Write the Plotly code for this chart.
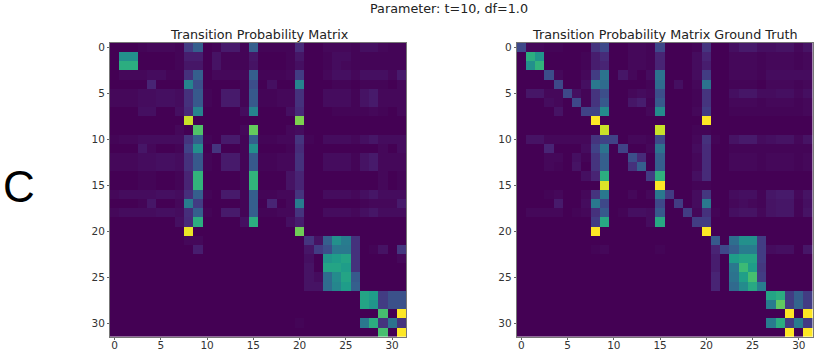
import plotly.graph_objects as go

tick_values = [0, 5, 10, 15, 20, 25, 30]
title_left = "Transition Probability Matrix"
title_right = "Transition Probability Matrix Ground Truth"
suptitle = "Parameter: t=10, df=1.0"
panel_letter = "C"

# Cell values in percent of the colour range
matrix_left = [
 [0,0,0,1,2,2,2,1, 18,30,0,1,7,7,1,30, 1,1,1,1,12,0,0,2, 2,2,1,4,4,2,1,1],
 [0,50,50,0,0,0,0,1, 8,8,0,5,1,1,1,6, 0,0,0,1,6,0,0,1, 3,3,1,1,1,1,1,1],
 [0,62,62,0,0,0,0,1, 6,6,0,5,1,1,1,5, 0,0,0,1,4,0,0,1, 3,2,1,1,1,1,1,1],
 [0,2,2,2,3,3,1,1, 14,30,0,2,2,2,2,30, 1,1,1,2,18,0,0,2, 4,4,2,4,4,4,2,7],
 [0,0,0,0,10,0,0,0, 45,24,0,0,0,0,1,24, 0,4,0,0,45,0,0,0, 1,1,0,1,1,1,0,2],
 [2,2,2,3,3,4,4,3, 14,28,1,0,7,7,1,28, 1,1,2,2,14,0,0,3, 3,3,1,5,7,2,2,2],
 [2,2,2,3,3,4,4,3, 14,28,1,0,7,7,1,28, 1,1,2,2,14,0,0,3, 3,3,1,5,7,2,2,2],
 [0,0,0,4,4,0,0,4, 12,45,0,0,0,0,3,45, 0,0,0,4,12,0,0,0, 1,1,1,1,2,1,0,2],
 [0,0,0,0,0,0,0,0, 92,0,0,0,0,0,0,0, 0,0,0,0,80,0,0,0, 0,0,0,0,0,0,0,0],
 [0,0,0,0,0,0,0,2, 0,72,0,0,0,0,2,76, 0,0,0,2,3,0,0,0, 0,0,0,0,0,0,0,0],
 [1,2,2,3,3,3,3,3, 15,30,1,0,7,7,1,30, 1,1,2,2,15,1,0,3, 3,3,2,4,6,3,3,3],
 [0,0,0,6,2,0,0,1, 20,50,0,15,0,0,1,50, 0,0,0,1,12,0,0,0, 0,0,0,0,0,2,0,3],
 [2,2,2,3,3,4,4,3, 14,28,1,0,7,7,1,28, 1,1,2,2,14,0,0,3, 3,3,1,5,7,2,2,2],
 [2,2,2,3,3,4,4,3, 14,28,1,0,7,7,1,28, 1,1,2,2,14,0,0,3, 3,3,1,5,7,2,2,2],
 [0,0,0,1,1,0,0,1, 10,65,0,0,0,0,1,65, 0,0,0,5,10,0,0,0, 0,0,0,0,0,2,0,1],
 [0,0,0,1,1,0,0,1, 10,65,0,0,0,0,1,65, 0,0,0,5,10,0,0,0, 0,0,0,0,0,2,0,1],
 [2,3,3,3,3,4,4,3, 13,30,1,0,7,7,1,30, 1,1,2,2,15,0,0,3, 3,3,2,4,6,3,3,3],
 [0,0,0,1,6,0,0,2, 42,18,0,0,0,0,1,30, 0,10,0,2,42,0,0,0, 0,0,0,1,2,2,2,7],
 [2,3,3,3,3,4,4,3, 13,30,1,0,7,7,1,30, 1,1,2,2,15,0,0,3, 3,3,2,4,6,3,3,3],
 [0,0,0,0,0,0,0,4, 12,62,0,0,0,0,4,62, 0,0,0,4,8,0,0,0, 0,0,0,0,0,0,0,0],
 [0,0,0,0,0,0,0,0, 97,0,0,0,0,0,0,0, 0,0,0,0,78,0,0,0, 0,0,0,0,0,0,0,0],
 [0,0,0,0,0,0,0,0, 2,2,0,0,0,0,0,0, 0,0,0,0,0,15,5,30, 50,42,14,0,0,0,0,0],
 [0,0,0,0,0,0,0,0, 0,8,0,0,0,0,0,0, 0,0,0,0,0,6,18,24, 40,40,14,0,1,5,0,16],
 [0,0,0,0,0,0,0,0, 0,0,0,0,0,0,0,0, 0,0,0,0,0,4,0,52, 55,58,14,0,0,0,0,2],
 [0,0,0,0,0,0,0,0, 0,0,0,0,0,0,0,0, 0,0,0,0,0,5,0,58, 58,55,14,0,0,0,0,0],
 [0,0,0,0,0,0,0,0, 0,0,0,0,0,0,0,0, 0,0,0,0,0,5,3,35, 48,58,28,0,0,0,0,0],
 [0,0,0,0,0,0,0,0, 0,0,0,0,0,0,0,0, 0,0,0,0,0,5,5,35, 46,55,30,0,0,0,0,0],
 [0,0,0,0,0,0,0,0, 0,0,0,0,0,0,0,0, 0,0,0,0,0,0,0,0, 0,0,0,58,55,18,25,25],
 [0,0,0,0,0,0,0,0, 0,0,0,0,0,0,0,0, 0,0,0,0,0,0,0,0, 0,0,0,58,52,18,25,25],
 [0,0,0,0,0,0,0,0, 0,0,0,0,0,0,0,0, 0,0,0,0,0,0,0,0, 0,0,0,0,0,70,0,100],
 [0,0,0,0,0,0,0,0, 0,0,0,0,0,0,0,0, 0,0,0,0,1,0,0,0, 0,0,0,40,62,15,38,15],
 [0,0,0,0,0,0,0,0, 0,0,0,0,0,0,0,0, 0,0,0,0,0,0,0,0, 0,0,0,0,0,70,0,100],
]

matrix_right = [
 [22,2,2,1,1,0,0,0, 15,22,0,0,2,2,1,22, 0,0,0,1,15,0,0,4, 7,7,4,4,5,5,2,5],
 [0,62,52,0,0,0,0,1, 8,12,0,0,2,2,1,10, 0,0,0,3,10,0,0,2, 2,2,1,2,2,2,1,2],
 [0,50,65,0,0,0,0,1, 8,10,0,0,2,2,1,10, 0,0,0,3,8,0,0,2, 2,2,1,2,2,2,1,2],
 [0,0,0,24,2,0,0,2, 18,38,0,6,2,0,3,38, 0,0,0,3,18,0,0,2, 2,2,1,3,3,3,3,3],
 [0,0,0,0,22,0,0,4, 40,35,0,0,0,0,1,35, 0,4,0,2,38,0,0,1, 1,1,0,2,2,2,1,2],
 [0,6,6,2,2,22,4,1, 15,24,0,0,2,3,2,24, 0,0,0,1,15,0,0,4, 6,6,3,3,4,4,2,4],
 [0,0,0,3,2,0,22,1, 15,28,0,0,6,8,1,28, 0,0,0,1,15,0,0,2, 2,2,1,2,2,2,1,2],
 [0,0,0,0,5,0,0,20, 20,48,0,0,0,0,2,48, 0,0,0,2,18,0,0,1, 1,1,1,1,1,1,1,2],
 [0,0,0,0,0,0,0,0, 100,0,0,0,0,0,0,0, 0,0,0,0,100,0,0,0, 0,0,0,0,0,0,0,0],
 [0,0,0,0,0,0,0,0, 0,92,0,0,0,0,0,92, 0,0,0,1,1,0,0,0, 0,0,0,0,0,0,0,0],
 [0,5,5,2,2,2,2,2, 15,20,20,0,2,2,1,22, 0,0,0,2,14,1,0,5, 7,7,3,4,5,5,2,5],
 [0,0,0,10,0,0,0,3, 20,38,0,20,0,0,2,38, 0,0,0,3,12,0,0,1, 1,1,1,1,1,1,1,1],
 [0,0,0,2,2,0,4,1, 15,30,0,0,24,12,0,30, 0,0,0,2,12,0,0,2, 2,2,1,2,2,2,1,2],
 [0,0,0,2,1,0,5,0, 15,30,0,0,14,30,0,30, 0,0,0,2,12,0,0,2, 2,2,1,2,2,2,1,2],
 [0,0,0,0,0,0,0,4, 10,62,0,0,0,0,18,64, 0,0,0,4,12,0,0,0, 0,0,0,0,0,0,0,0],
 [0,0,0,0,0,0,0,0, 0,95,0,0,0,0,0,100, 0,0,0,1,1,0,0,0, 0,0,0,0,0,0,0,0],
 [0,0,0,1,2,0,0,2, 15,40,0,0,2,0,2,40, 18,0,0,3,16,0,0,3, 4,4,1,6,7,7,2,5],
 [0,0,0,0,7,0,0,3, 40,22,0,0,0,0,0,22, 0,18,0,3,40,0,0,2, 3,2,1,5,6,6,1,4],
 [0,2,2,2,2,0,1,2, 14,28,0,1,4,4,3,28, 0,0,18,2,14,1,0,4, 5,5,2,5,6,6,1,5],
 [0,0,0,0,0,0,0,0, 18,60,0,0,0,0,3,60, 0,0,0,18,18,0,0,0, 0,0,0,0,0,0,0,0],
 [0,0,0,0,0,0,0,0, 100,0,0,0,0,0,0,0, 0,0,0,0,100,0,0,0, 0,0,0,0,0,0,0,0],
 [0,0,0,0,0,0,0,0, 0,0,0,0,0,0,0,0, 0,0,0,0,0,28,0,36, 50,50,18,0,0,0,0,0],
 [0,0,0,0,0,0,0,0, 1,2,0,0,0,0,0,1, 0,0,0,0,0,10,22,30, 42,42,18,3,4,4,0,6],
 [0,0,0,0,0,0,0,0, 0,0,0,0,0,0,0,0, 0,0,0,0,0,8,0,55, 58,58,18,0,0,0,0,0],
 [0,0,0,0,0,0,0,0, 0,0,0,0,0,0,0,0, 0,0,0,0,0,8,0,40, 68,55,16,0,0,0,0,0],
 [0,0,0,0,0,0,0,0, 0,0,0,0,0,0,0,0, 0,0,0,0,0,10,0,38, 56,70,18,0,0,0,0,0],
 [0,0,0,0,0,0,0,0, 0,0,0,0,0,0,0,0, 0,0,0,0,0,10,0,34, 48,60,42,0,0,0,0,0],
 [0,0,0,0,0,0,0,0, 0,0,0,0,0,0,0,0, 0,0,0,0,0,0,0,0, 0,0,0,58,62,18,30,18],
 [0,0,0,0,0,0,0,0, 0,0,0,0,0,0,0,0, 0,0,0,0,0,0,0,0, 0,0,0,42,75,18,32,18],
 [0,0,0,0,0,0,0,0, 0,0,0,0,0,0,0,0, 0,0,0,0,0,0,0,0, 0,0,0,0,0,100,0,100],
 [0,0,0,0,0,0,0,0, 0,0,0,0,0,0,0,0, 0,0,0,0,0,0,0,0, 0,0,0,42,62,18,42,18],
 [0,0,0,0,0,0,0,0, 0,0,0,0,0,0,0,0, 0,0,0,0,0,0,0,0, 0,0,0,0,0,100,0,100],
]

W, H = 830, 363
x_dom_l = [110 / W, 406 / W]
x_dom_r = [516.7 / W, 812.7 / W]
y_dom = [1 - 336.7 / H, 1 - 41 / H]

fig = go.Figure()
fig.add_trace(go.Heatmap(z=matrix_left, colorscale="Viridis", zmin=0, zmax=100,
                         showscale=False, xaxis="x", yaxis="y"))
fig.add_trace(go.Heatmap(z=matrix_right, colorscale="Viridis", zmin=0, zmax=100,
                         showscale=False, xaxis="x2", yaxis="y2"))

axis_common = dict(
    range=[-0.5, 31.5], tickmode="array", tickvals=tick_values,
    ticks="outside", ticklen=2, tickwidth=1, tickcolor="#666666",
    showgrid=False, zeroline=False, showline=True, linecolor="#777777", linewidth=1,
    mirror=True, tickfont=dict(family="DejaVu Sans", size=10.5, color="#333333"),
)
x_common = dict(axis_common, ticklabelstandoff=-3)
y_common = dict(axis_common, range=[31.5, -0.5])

fig.update_layout(
    width=W, height=H, margin=dict(l=0, r=0, t=0, b=0),
    paper_bgcolor="white", plot_bgcolor="white", showlegend=False,
    xaxis=dict(x_common, domain=x_dom_l, anchor="y"),
    yaxis=dict(y_common, domain=y_dom, anchor="x"),
    xaxis2=dict(x_common, domain=x_dom_r, anchor="y2"),
    yaxis2=dict(y_common, domain=y_dom, anchor="x2"),
    annotations=[
        dict(text=suptitle, x=449 / W, y=1 - 7 / H, xref="paper", yref="paper", showarrow=False,
             xanchor="center", yanchor="middle", font=dict(family="DejaVu Sans", size=12.75, color="#222222")),
        dict(text=title_left, x=259 / W, y=1 - 33 / H, xref="paper", yref="paper", showarrow=False,
             xanchor="center", yanchor="middle", font=dict(family="DejaVu Sans", size=12.75, color="#222222")),
        dict(text=title_right, x=665 / W, y=1 - 33 / H, xref="paper", yref="paper", showarrow=False,
             xanchor="center", yanchor="middle", font=dict(family="DejaVu Sans", size=12.75, color="#222222")),
        dict(text=panel_letter, x=18.5 / W, y=1 - 186 / H, xref="paper", yref="paper", showarrow=False,
             xanchor="center", yanchor="middle", font=dict(family="Liberation Sans", size=44, color="#000000")),
    ],
)

fig.write_html("out.html", config={"displayModeBar": False},
               post_script="document.body.style.margin='0';document.body.style.overflow='hidden';")
